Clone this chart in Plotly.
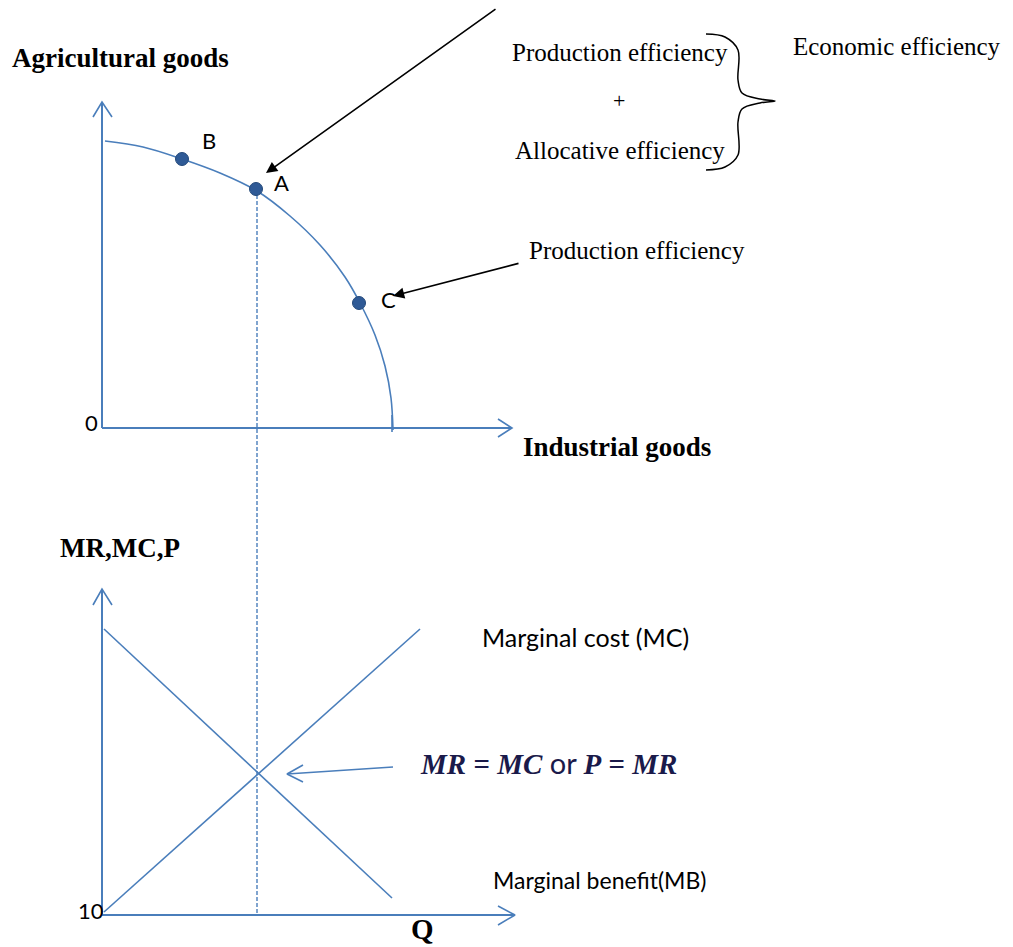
import plotly.graph_objects as go

# canvas is laid out in pixel units of the original drawing (y grows downward)
W, H = 1013, 947
BLUE = "#4A7EBB"
DOT = "#2F5A96"
SERIF = "Liberation Serif"
SANS = "Lato"

# upper panel: production possibility frontier
ppf_x = [105, 143, 182, 220, 257, 290, 320, 345, 360, 375, 385, 391, 393]
ppf_y = [141, 147, 159, 173, 191, 216, 245, 277, 303, 335, 366, 398, 430]
pt_names = ["B", "A", "C"]
pt_x = [182, 256, 359]
pt_y = [159, 189, 303]

top_yaxis_x = [102, 102]
top_yaxis_y = [428, 102]
top_xaxis_x = [102, 512]
top_xaxis_y = [428, 428]

# lower panel: marginal benefit / marginal cost
mb_x = [104, 392]
mb_y = [629, 898]
mc_x = [104, 420]
mc_y = [912, 629]
bot_yaxis_x = [102, 102]
bot_yaxis_y = [915, 589]
bot_xaxis_x = [102, 515]
bot_xaxis_y = [915, 915]

# dashed guide from A down to the MB=MC crossing
guide_x = [257, 257]
guide_y = [189, 915]

# open chevron heads: (wing, tip, wing)
heads = [
    ([93, 102, 112], [117, 102, 117]),
    ([498, 512, 498], [419, 428, 437]),
    ([93, 102, 112], [605, 589, 605]),
    ([498, 515, 498], [906, 915, 925]),
    ([303, 287, 303], [765, 774, 782]),
]
eq_arrow_x = [393, 287]
eq_arrow_y = [767, 774]

# curly brace joining the two efficiencies
brace_x = [706, 725, 738, 738, 742, 760, 775, 760, 742, 738, 738, 725, 706]
brace_y = [34, 37, 50, 80, 93, 99, 101, 103, 109, 122, 155, 167, 170]

fig = go.Figure()

def line(xs, ys, color=BLUE, width=2, dash=None, shape="linear"):
    fig.add_trace(go.Scatter(x=xs, y=ys, mode="lines", hoverinfo="skip",
                             line=dict(color=color, width=width, dash=dash, shape=shape)))

line(top_yaxis_x, top_yaxis_y)
line(top_xaxis_x, top_xaxis_y)
line(bot_yaxis_x, bot_yaxis_y)
line(bot_xaxis_x, bot_xaxis_y)
for hx, hy in heads:
    line(hx, hy, width=1.6)
line(ppf_x, ppf_y, width=1.6, shape="spline")
line([392, 392], [415, 432], width=1.6)
line(guide_x, guide_y, width=1.4, dash="4px,2px")
line(mb_x, mb_y, width=1.6)
line(mc_x, mc_y, width=1.6)
line(eq_arrow_x, eq_arrow_y, width=1.6)
line(brace_x, brace_y, color="black", width=1.5, shape="spline")

fig.add_trace(go.Scatter(x=pt_x, y=pt_y, mode="markers", hoverinfo="skip",
                         marker=dict(symbol="circle", size=13, color=DOT,
                                     line=dict(color="#24497A", width=1))))

ann = []

def text(x, y, s, size=20, family=SANS, xanchor="left", color="black", yanchor="middle"):
    ann.append(dict(x=x, y=y, text=s, showarrow=False, xanchor=xanchor, yanchor=yanchor,
                    font=dict(family=family, size=size, color=color)))

text(10, 58, "<b>Agricultural goods</b>", 27, SERIF)
text(521, 447, "<b>Industrial goods</b>", 27, SERIF)
text(58, 548, "<b>MR,MC,P</b>", 27, SERIF)
text(409, 947, "<b>Q</b>", 29, SERIF, yanchor="bottom")
text(83, 422, "0", 22)
text(76, 910, "10", 22)
text(200, 140, "B", 22)
text(272, 182, "A", 22)
text(379, 299, "C", 22)
text(510, 52, "Production efficiency", 25, SERIF)
text(619, 100, "+", 22, SERIF, xanchor="center")
text(513, 150, "Allocative efficiency", 25, SERIF)
text(791, 46, "Economic efficiency", 25, SERIF)
text(527, 250, "Production efficiency", 25, SERIF)
text(480, 637, "Marginal cost (MC)", 25)
text(491, 880, "Marginal benefit(MB)", 23)
text(418, 762,
     "<b><i>MR</i> = <i>MC</i></b>"
     "<span style='font-family:Lato'> or </span>"
     "<b><i>P</i> = <i>MR</i></b>", 29, SERIF, color="#1A1A4A")

# black pointer arrows
for tx, ty, sx, sy in [(266, 173, 497, 8), (393, 296, 520, 263)]:
    ann.append(dict(x=tx, y=ty, ax=sx, ay=sy, xref="x", yref="y", axref="x", ayref="y",
                    text="", showarrow=True, arrowhead=2, arrowsize=1.4, arrowwidth=1.6,
                    arrowcolor="black"))

fig.update_layout(
    width=W, height=H,
    margin=dict(l=0, r=0, t=0, b=0),
    paper_bgcolor="white", plot_bgcolor="white",
    showlegend=False,
    annotations=ann,
    xaxis=dict(range=[0, W], visible=False, fixedrange=True),
    yaxis=dict(range=[H, 0], visible=False, fixedrange=True),
)

fig.write_html("out.html", config={"displayModeBar": False},
               post_script="document.body.style.margin='0';")
